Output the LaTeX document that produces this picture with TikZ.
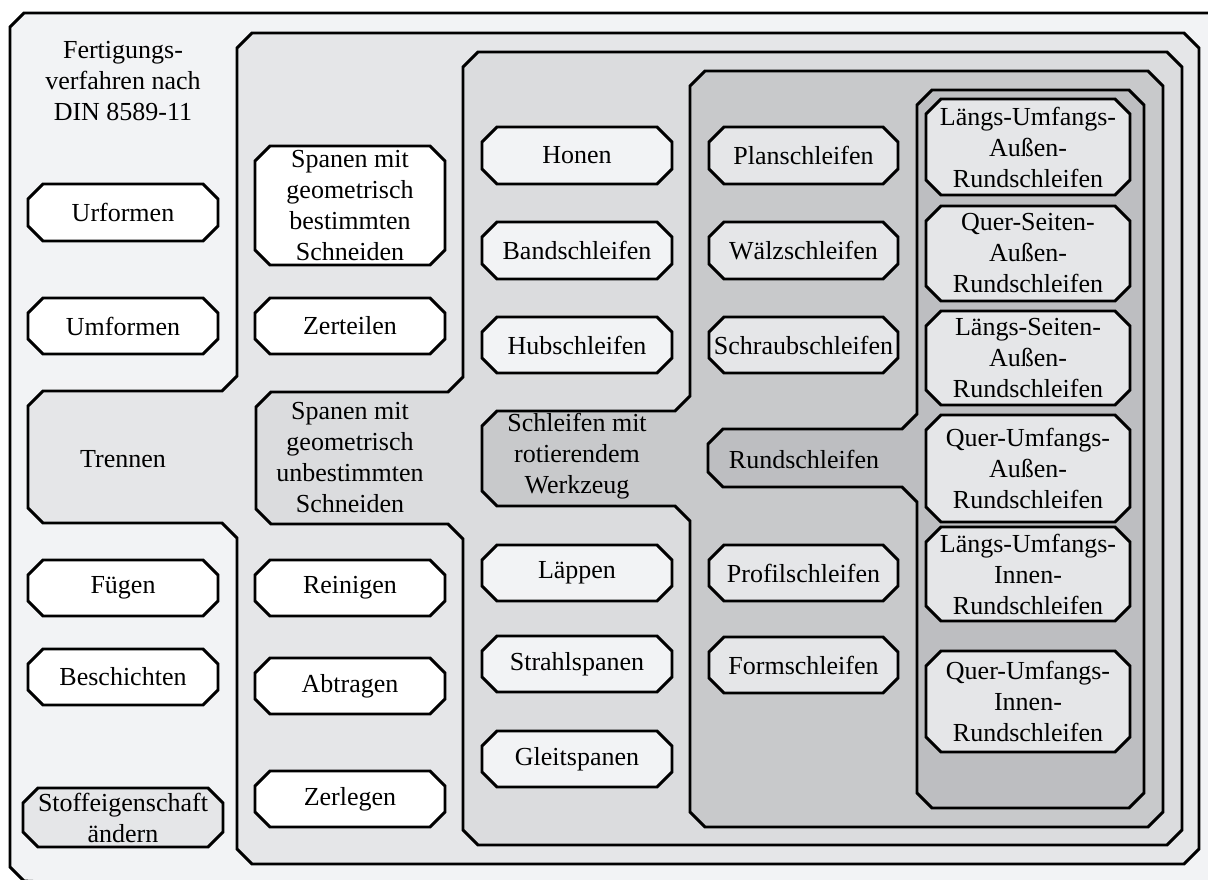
\documentclass[tikz,border=0pt]{standalone}
\usepackage{fontspec}
\setmainfont{Liberation Serif}
\definecolor{cA}{HTML}{F2F3F5}
\definecolor{cB}{HTML}{E5E6E8}
\definecolor{cC}{HTML}{DBDCDE}
\definecolor{cD}{HTML}{C8C9CB}
\definecolor{cE}{HTML}{BDBEC1}
\tikzset{
  frame/.style={draw=black, line width=2.9pt},
  boxtext/.style={align=center, inner sep=0pt, font=\fontsize{26}{31}\selectfont},
}
\newcommand{\chbox}[7]{%
  \filldraw[frame, fill=#2] ({#3+15},#4) -- ({#5-15},#4) -- (#5,{#4+15}) -- (#5,{#6-15}) -- ({#5-15},#6) -- ({#3+15},#6) -- (#3,{#6-15}) -- (#3,{#4+15}) -- cycle;
  \node[boxtext] (#1) at ({(#3+#5)/2},{(#4+#6)/2}) {#7};
}
\begin{document}
\begin{tikzpicture}[x=1pt,y=-1pt]
\useasboundingbox (0,0) rectangle (1208,879);
\clip (0,0) rectangle (1208,879);
\fill[white] (0,0) rectangle (1208,879);
% level 1
\filldraw[frame, fill=cA] (10,27) -- (24,13) -- (1260,13) -- (1260,940) -- (24,881) -- (10,867) -- cycle;
\node[boxtext] (title) at (123,81) {Fertigungs-\\verfahren nach\\DIN 8589-11};
% level 2
\filldraw[frame, fill=cB] (237,48) -- (252,33) -- (1184,33) -- (1199,48) -- (1199,849) -- (1184,864) -- (252,864) -- (237,849) -- (237,538) -- (222,523) -- (43,523) -- (28,508) -- (28,406) -- (43,391) -- (222,391) -- (237,376) -- cycle;
\node[boxtext] (trennen) at (123,459) {Trennen};
% level 3
\filldraw[frame, fill=cC] (463,67) -- (478,52) -- (1167,52) -- (1182,67) -- (1182,830) -- (1167,845) -- (478,845) -- (463,830) -- (463,539) -- (448,524) -- (271,524) -- (256,509) -- (256,407) -- (271,392) -- (448,392) -- (463,377) -- cycle;
\node[boxtext] (spu) at (350,458) {Spanen mit\\geometrisch\\unbestimmten\\Schneiden};
% level 4
\filldraw[frame, fill=cD] (690,86) -- (705,71) -- (1148,71) -- (1163,86) -- (1163,812) -- (1148,827) -- (705,827) -- (690,812) -- (690,521) -- (675,506) -- (497,506) -- (482,491) -- (482,426) -- (497,411) -- (675,411) -- (690,396) -- cycle;
\node[boxtext] (srw) at (577,456) {Schleifen mit\\rotierendem\\Werkzeug};
% level 5
\filldraw[frame, fill=cE] (917,105) -- (932,90) -- (1129,90) -- (1144,105) -- (1144,793) -- (1129,808) -- (932,808) -- (917,793) -- (917,502) -- (902,487) -- (723,487) -- (708,472) -- (708,444) -- (723,429) -- (902,429) -- (917,414) -- cycle;
\node[boxtext] (rund) at (804,459) {Rundschleifen};
% column 1
\chbox{urf}{white}{28}{184}{218}{241}{Urformen}
\chbox{umf}{white}{28}{298}{218}{354}{Umformen}
\chbox{fue}{white}{28}{560}{218}{616}{Fügen}
\chbox{bes}{white}{28}{649}{218}{705}{Beschichten}
\chbox{sto}{cB}{23}{788}{223}{847}{Stoffeigenschaft\\ändern}
% column 2
\chbox{spb}{white}{255}{146}{445}{265}{Spanen mit\\geometrisch\\bestimmten\\Schneiden}
\chbox{zet}{white}{255}{298}{445}{354}{Zerteilen}
\chbox{rei}{white}{255}{560}{445}{616}{Reinigen}
\chbox{abt}{white}{255}{658}{445}{714}{Abtragen}
\chbox{zel}{white}{255}{771}{445}{827}{Zerlegen}
% column 3
\chbox{hon}{cA}{482}{127}{672}{184}{Honen}
\chbox{ban}{cA}{482}{222}{672}{279}{Bandschleifen}
\chbox{hub}{cA}{482}{317}{672}{373}{Hubschleifen}
\chbox{lae}{cA}{482}{545}{672}{601}{Läppen}
\chbox{str}{cA}{482}{636}{672}{692}{Strahlspanen}
\chbox{gle}{cA}{482}{731}{672}{787}{Gleitspanen}
% column 4
\chbox{pla}{cB}{709}{127}{898}{184}{Planschleifen}
\chbox{wae}{cB}{709}{222}{898}{279}{Wälzschleifen}
\chbox{sch}{cB}{709}{317}{898}{373}{Schraubschleifen}
\chbox{pro}{cB}{709}{545}{898}{601}{Profilschleifen}
\chbox{for}{cB}{709}{637}{898}{693}{Formschleifen}
% column 5
\chbox{r1}{cB}{926}{99}{1130}{195}{Längs-Umfangs-\\Außen-\\Rundschleifen}
\chbox{r2}{cB}{926}{206}{1130}{301}{Quer-Seiten-\\Außen-\\Rundschleifen}
\chbox{r3}{cB}{926}{311}{1130}{405}{Längs-Seiten-\\Außen-\\Rundschleifen}
\chbox{r4}{cB}{926}{415}{1130}{522}{Quer-Umfangs-\\Außen-\\Rundschleifen}
\chbox{r5}{cB}{926}{527}{1130}{621}{Längs-Umfangs-\\Innen-\\Rundschleifen}
\chbox{r6}{cB}{926}{651}{1130}{752}{Quer-Umfangs-\\Innen-\\Rundschleifen}
\end{tikzpicture}
\end{document}
